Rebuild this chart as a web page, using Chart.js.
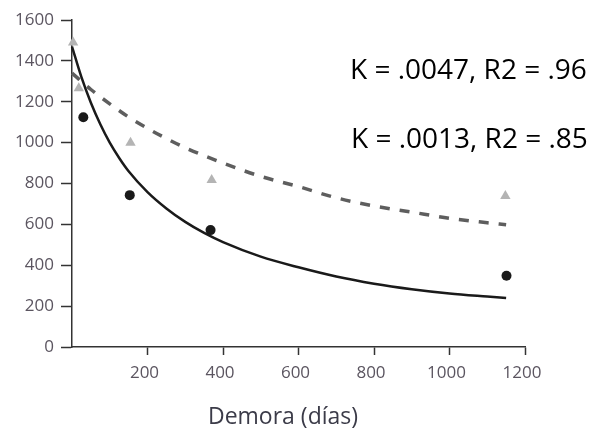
<!DOCTYPE html>
<html>
<head>
<meta charset="utf-8">
<script src="https://cdn.jsdelivr.net/npm/chart.js@4"></script>
<style>
  html, body { margin: 0; padding: 0; background: #fff; }
  #wrap { width: 603px; height: 433px; position: relative; }
</style>
</head>
<body>
<div id="wrap"><canvas id="c"></canvas></div>
<script>
// Observed points (días, value)
const circleDays   = [30, 153, 367, 1151];
const circleValues = [1124, 743, 572, 349];
const triangleDays   = [3, 18, 155, 370, 1148];
const triangleValues = [1490, 1266, 1000, 817, 739];

// Fitted curves
const solidDays   = [0, 25, 50, 75, 100, 125, 150, 200, 250, 300, 350, 400, 500, 600, 700, 800, 900, 1000, 1100, 1150];
const solidValues = [1470, 1320, 1195, 1090, 1000, 925, 860, 758, 678, 612, 558, 513, 442, 390, 345, 310, 283, 262, 247, 240];
const dashedDays   = [0, 50, 100, 150, 200, 250, 300, 400, 500, 600, 700, 800, 900, 1000, 1100, 1150];
const dashedValues = [1340, 1260, 1190, 1125, 1070, 1020, 975, 900, 835, 785, 730, 690, 660, 630, 608, 598];

const xTicks = [0, 200, 400, 600, 800, 1000, 1200];
const yTicks = [0, 200, 400, 600, 800, 1000, 1200, 1400, 1600];
const annotations = ["K = .0047, R2 = .96", "K = .0013, R2 = .85"];
const xTitle = "Demora (días)";

const toXY = (xs, ys) => xs.map((x, i) => ({ x: x, y: ys[i] }));

const textPlugin = {
  id: 'texts',
  afterDraw(chart) {
    const ctx = chart.ctx;
    ctx.save();
    ctx.fillStyle = '#000';
    ctx.font = '28px "Open Sans"';
    ctx.textBaseline = 'alphabetic';
    ctx.textAlign = 'left';
    ctx.fillText(annotations[0], 350, 79);
    ctx.fillText(annotations[1], 351, 148);
    ctx.fillStyle = '#3b3b48';
    ctx.font = '23px "Open Sans"';
    ctx.textAlign = 'center';
    ctx.textBaseline = 'middle';
    ctx.fillText(xTitle, 283, 417);
    ctx.restore();
  }
};

new Chart(document.getElementById('c'), {
  type: 'scatter',
  data: {
    datasets: [
      {
        data: toXY(dashedDays, dashedValues),
        showLine: true, pointRadius: 0, borderColor: '#5e5e5e', borderWidth: 3.5,
        borderDash: [10, 10], cubicInterpolationMode: 'monotone', clip: false
      },
      {
        data: toXY(solidDays, solidValues),
        showLine: true, pointRadius: 0, borderColor: '#1a1a1a', borderWidth: 2.5,
        cubicInterpolationMode: 'monotone', clip: false
      },
      {
        data: toXY(triangleDays, triangleValues),
        pointStyle: 'triangle', pointRadius: 6, backgroundColor: '#b4b4b4', borderColor: '#b4b4b4',
        borderWidth: 0, clip: false
      },
      {
        data: toXY(circleDays, circleValues),
        pointStyle: 'circle', pointRadius: 5, backgroundColor: '#1a1a1a', borderColor: '#1a1a1a',
        borderWidth: 0, clip: false
      }
    ]
  },
  options: {
    responsive: true,
    maintainAspectRatio: false,
    animation: false,
    layout: { padding: { left: 0, right: 78, top: 20, bottom: 0 } },
    plugins: { legend: { display: false }, tooltip: { enabled: false } },
    scales: {
      x: {
        type: 'linear', min: 0, max: 1200,
        afterBuildTicks: s => { s.ticks = xTicks.map(v => ({ value: v })); },
        afterFit: s => { s.height = 86; },
        grid: {
          drawOnChartArea: false, drawTicks: true, tickLength: 8, tickWidth: 1.5,
          tickColor: ctx => (ctx.tick && ctx.tick.value === 0) ? 'rgba(0,0,0,0)' : '#333'
        },
        border: { color: '#333', width: 1.5 },
        ticks: {
          color: '#5b5560', font: { family: 'Open Sans', size: 17 }, padding: 8, labelOffset: -3,
          maxRotation: 0, callback: v => v === 0 ? '' : String(v)
        },
        title: { display: false }
      },
      y: {
        type: 'linear', min: 0, max: 1600,
        afterBuildTicks: s => { s.ticks = yTicks.map(v => ({ value: v })); },
        afterFit: s => { s.width = 72; },
        grid: { drawOnChartArea: false, drawTicks: true, tickLength: 11, tickWidth: 1.5, tickColor: '#333' },
        border: { color: '#333', width: 1.5 },
        ticks: { color: '#5b5560', font: { family: 'Open Sans', size: 17 }, padding: 7, callback: v => String(v) }
      }
    }
  },
  plugins: [textPlugin]
});
</script>
</body>
</html>
